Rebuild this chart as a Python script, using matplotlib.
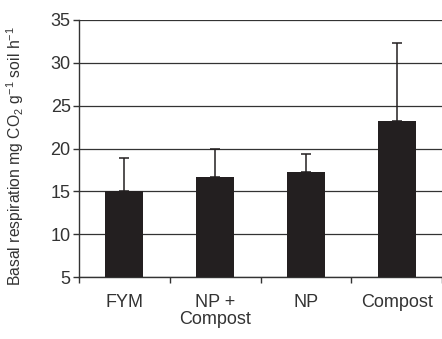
import matplotlib.pyplot as plt
import numpy as np

plt.rcParams['font.family'] = ['Liberation Sans', 'DejaVu Sans']
plt.rcParams['mathtext.fontset'] = 'custom'
plt.rcParams['mathtext.rm'] = 'Liberation Sans'
plt.rcParams['mathtext.default'] = 'rm'

treatments = ['FYM', 'NP +\nCompost', 'NP', 'Compost']
respiration = [15.0, 16.7, 17.3, 23.2]
upper_err = [3.9, 3.3, 2.0, 9.1]
base = 5

fig = plt.figure(figsize=(4.42, 3.39), dpi=100)
ax = fig.add_axes([79 / 442, 62 / 339, 363 / 442, 257 / 339])

x = np.arange(len(treatments))
heights = [v - base for v in respiration]
ax.bar(x, heights, bottom=base, width=0.42, color='#231f20', zorder=3)
ax.errorbar(x, respiration, yerr=[np.zeros(len(x)), upper_err], fmt='none',
            ecolor='#231f20', elinewidth=1.1, capsize=3.8, capthick=1.1, zorder=2)

ax.set_xlim(-0.5, len(treatments) - 0.5)
ax.set_ylim(5, 35)
ax.set_yticks(range(5, 36, 5))
ax.yaxis.grid(True, color='#333333', linewidth=0.9, zorder=0)
ax.set_xticks(np.arange(len(treatments) + 1) - 0.5)
ax.set_xticklabels([])
ax.set_xticks(x, minor=True)
ax.set_xticklabels(treatments, minor=True, fontsize=13, color='#333333',
                   linespacing=1.05)
ax.tick_params(axis='x', which='minor', length=0, pad=12)
ax.tick_params(axis='x', which='major', length=4, width=1, color='#333333')
ax.tick_params(axis='y', length=4, width=1, color='#333333', labelsize=13,
               labelcolor='#333333', pad=2)
for s in ['top', 'right']:
    ax.spines[s].set_visible(False)
for s in ['left', 'bottom']:
    ax.spines[s].set_color('#333333')
    ax.spines[s].set_linewidth(1)

ax.set_ylabel('Basal respiration mg CO$_2$ g$^{-1}$ soil h$^{-1}$', fontsize=11.3,
              color='#333333')
ax.yaxis.set_label_coords(-53 / 363, 0.47)

fig.savefig('out.png', dpi=100)
